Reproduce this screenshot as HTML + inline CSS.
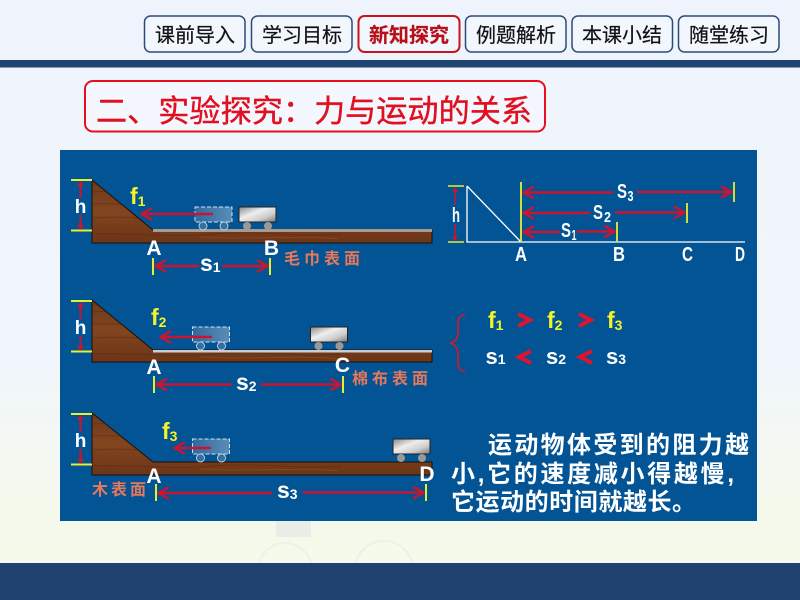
<!DOCTYPE html>
<html><head><meta charset="utf-8"><style>
html,body{margin:0;padding:0;background:#fff}
svg{display:block}
text{font-family:"Liberation Sans","Noto Sans CJK SC",sans-serif}
.n{font-size:20px;fill:#111;text-anchor:middle;stroke:#111;stroke-width:.2px}
.w{fill:#fff;font-weight:bold}
.y{fill:#f4f42a;font-weight:bold}
.c{fill:#e8785a;font-size:16px;font-weight:bold;letter-spacing:4px}
.b{fill:#fff;font-size:24px;font-weight:bold;letter-spacing:1px}
.l{stroke:#cc1430;stroke-width:2.400;fill:none}
</style></head><body>
<svg width="800" height="600" viewBox="0 0 800 600" xmlns="http://www.w3.org/2000/svg">
<defs>
<linearGradient id="bg" x1="0" y1="0" x2="0" y2="1"><stop offset="0" stop-color="#eff4fc"/><stop offset=".6" stop-color="#f1f6fc"/><stop offset=".85" stop-color="#f5f9ec"/><stop offset="1" stop-color="#f5fae8"/></linearGradient>
<linearGradient id="wood" x1="0" y1="0" x2="0" y2="1"><stop offset="0" stop-color="#6f3a1b"/><stop offset=".5" stop-color="#82451f"/><stop offset="1" stop-color="#6b3517"/></linearGradient>
<linearGradient id="cart" x1="0" y1="0" x2="1" y2="1"><stop offset="0" stop-color="#888"/><stop offset=".4" stop-color="#eee"/><stop offset=".7" stop-color="#ccc"/><stop offset="1" stop-color="#777"/></linearGradient>
<linearGradient id="ghost" x1="0" y1="0" x2="1" y2="0"><stop offset="0" stop-color="#2f6a9f"/><stop offset="1" stop-color="#5a8cb8"/></linearGradient>
<clipPath id="rampclip"><path d="M92 0L153 50H432V63H92Z"/></clipPath>
<marker id="al" markerUnits="userSpaceOnUse" markerWidth="15" markerHeight="15" refX="1" refY="7.500" orient="auto"><path d="M12 1.500 L1.500 7.500 L12 13.500" fill="none" stroke="#cc1430" stroke-width="2.400"/></marker>
<marker id="ar" markerUnits="userSpaceOnUse" markerWidth="15" markerHeight="15" refX="14" refY="7.500" orient="auto"><path d="M3 1.500 L13.500 7.500 L3 13.500" fill="none" stroke="#cc1430" stroke-width="2.400"/></marker>
<g id="hbar"><path d="M71 0H92M71 50.500H92" stroke="#e8ee30" stroke-width="2"/><path d="M80.500 2V18M80.500 35V48" stroke="#cc1430" stroke-width="2" fill="none"/><path d="M77 6L80.500 1L84 6ZM77 45L80.500 50L84 45Z" fill="#cc1430"/><text x="80.500" y="33" class="w" font-size="19" text-anchor="middle">h</text></g>
<g id="ghostcart"><rect x="0" y="0" width="37" height="15" fill="url(#ghost)" stroke="#cfe0f0" stroke-width="1" stroke-dasharray="4 2"/><circle cx="8" cy="19" r="4" fill="#35709f" stroke="#cfe0f0" stroke-width=".8"/><circle cx="29" cy="19" r="4" fill="#35709f" stroke="#cfe0f0" stroke-width=".8"/></g>
<g id="cartg"><rect x="0" y="0" width="37" height="15" fill="url(#cart)" stroke="#222" stroke-width="1"/><circle cx="8" cy="19" r="4" fill="#999"/><circle cx="29" cy="19" r="4" fill="#999"/></g>
<g id="grain" clip-path="url(#rampclip)" fill="none" stroke="#4f2610" stroke-width="1" opacity=".4"><path d="M92 12C110 10 120 14 130 13M92 24C120 22 130 27 145 25M92 38C130 35 170 42 200 38M92 54C130 52 170 58 215 54C260 50 300 58 340 54"/><path d="M200 57C250 60 300 55 338 59" stroke="#a0602c"/></g>
</defs>
<rect width="800" height="600" fill="url(#bg)"/>
<g fill="none" stroke="#eef0ea" stroke-width="2"><circle cx="285" cy="570" r="27"/><circle cx="384" cy="570" r="29"/></g>
<rect x="276" y="521" width="35" height="16" fill="#ebede8"/>
<rect y="60" width="800" height="7.500" fill="#1f4572"/>
<rect y="563" width="800" height="37" fill="#1f4270"/>

<g fill="#f2f6fd" stroke="#2a4d78" stroke-width="1.500">
<rect x="144.500" y="16" width="100.500" height="36" rx="6"/><rect x="251.500" y="16" width="100.500" height="36" rx="6"/>
<rect x="465.500" y="16" width="100.500" height="36" rx="6"/><rect x="572" y="16" width="100.500" height="36" rx="6"/><rect x="678.500" y="16" width="100.500" height="36" rx="6"/>
<rect x="358.500" y="16" width="101" height="36" rx="6" stroke="#c8141e" stroke-width="2"/>
</g>
<text class="n" x="195" y="42">课前导入</text><text class="n" x="302" y="42">学习目标</text>
<text class="n" x="409" y="42" style="fill:#b8101a;stroke:#b8101a;font-weight:bold">新知探究</text>
<text class="n" x="516" y="42">例题解析</text><text class="n" x="622" y="42">本课小结</text><text class="n" x="729" y="42">随堂练习</text>

<rect x="85" y="81" width="460" height="50.500" rx="8" fill="#f4f7fd" stroke="#e5101c" stroke-width="2"/>
<text x="96" y="122" font-size="31" fill="#e01020" stroke="#e01020" stroke-width=".4" textLength="436" lengthAdjust="spacingAndGlyphs">二、实验探究：力与运动的关系</text>

<rect x="60" y="150" width="697" height="371" fill="#035495"/>

<!-- diagram 1 -->
<path d="M92 180L153 230H432V243H92Z" fill="url(#wood)" stroke="#1a1008" stroke-width="1"/>
<use href="#grain" y="180"/>
<rect x="153" y="229" width="279" height="3" fill="#a89a92"/>
<use href="#hbar" y="180"/>
<text x="130" y="204" class="y" font-size="23">f<tspan font-size="14" dy="2">1</tspan></text>
<use href="#ghostcart" x="195" y="207"/>
<use href="#cartg" x="239" y="207"/>
<path d="M141 214H213" class="l" marker-start="url(#al)"/>
<text x="154" y="255" class="w" font-size="21" text-anchor="middle">A</text>
<text x="271.500" y="255" class="w" font-size="21" text-anchor="middle">B</text>
<path d="M153 258V275M270 258V275" stroke="#e8ee30" stroke-width="2"/>
<path d="M155 266H199" class="l" marker-start="url(#al)"/>
<path d="M222 266H268" class="l" marker-end="url(#ar)"/>
<text x="200" y="271" class="w" font-size="23">s<tspan font-size="14" dy="1">1</tspan></text>
<text x="284" y="264" class="c">毛巾表面</text>

<!-- diagram 2 -->
<path d="M92 300L153 350H432V362H92Z" fill="url(#wood)" stroke="#1a1008" stroke-width="1"/>
<use href="#grain" y="300"/>
<rect x="153" y="350" width="279" height="2.500" fill="#c8ced4"/>
<use href="#hbar" y="301"/>
<text x="151" y="325" class="y" font-size="23">f<tspan font-size="14" dy="2">2</tspan></text>
<use href="#ghostcart" x="192.500" y="327"/>
<use href="#cartg" x="310.500" y="327"/>
<path d="M160 337H212" class="l" marker-start="url(#al)"/>
<text x="154" y="374" class="w" font-size="21" text-anchor="middle">A</text>
<text x="342.500" y="372" class="w" font-size="21" text-anchor="middle">C</text>
<path d="M154 376V393M343 376V393" stroke="#e8ee30" stroke-width="2"/>
<path d="M156 384.500H232" class="l" marker-start="url(#al)"/>
<path d="M261 384.500H341" class="l" marker-end="url(#ar)"/>
<text x="236" y="390" class="w" font-size="23">s<tspan font-size="14" dy="1">2</tspan></text>
<text x="352" y="384" class="c">棉布表面</text>

<!-- diagram 3 -->
<path d="M92 413L153 462H432V475H92Z" fill="url(#wood)" stroke="#1a1008" stroke-width="1"/>
<use href="#grain" y="412"/>
<use href="#hbar" y="414"/>
<text x="162" y="439" class="y" font-size="23">f<tspan font-size="14" dy="2">3</tspan></text>
<use href="#ghostcart" x="192.500" y="439"/>
<use href="#cartg" x="393" y="439"/>
<path d="M174 448H211" class="l" marker-start="url(#al)"/>
<text x="154" y="483" class="w" font-size="21" text-anchor="middle">A</text>
<text x="427" y="481" class="w" font-size="21" text-anchor="middle">D</text>
<path d="M156 484V501M426 484V501" stroke="#e8ee30" stroke-width="2"/>
<path d="M158 493H272" class="l" marker-start="url(#al)"/>
<path d="M303 492.500H424" class="l" marker-end="url(#ar)"/>
<text x="277" y="498" class="w" font-size="23">s<tspan font-size="14" dy="1">3</tspan></text>
<text x="92" y="495" class="c" style="letter-spacing:3px">木表面</text>

<!-- right schematic -->
<path d="M467 186V242H745M467 186L521 242" stroke="#fff" stroke-width="1.300" fill="none"/>
<path d="M448 186H464M448 242H464" stroke="#e8ee30" stroke-width="1.500"/>
<path d="M455 188V205M455 224V240" stroke="#cc1430" stroke-width="1.500" fill="none"/>
<path d="M452 192L455 187L458 192ZM452 236L455 241L458 236Z" fill="#cc1430"/>
<text x="452" y="222" class="w" font-size="20" textLength="8" lengthAdjust="spacingAndGlyphs">h</text>
<path d="M521 182V242M617 222V242M687 203V223M734 182V202" stroke="#e8ee30" stroke-width="1.800"/>
<path d="M523 192.500H613" class="l" marker-start="url(#al)"/>
<path d="M637 192H732" class="l" marker-end="url(#ar)"/>
<path d="M523 213H590" class="l" marker-start="url(#al)"/>
<path d="M615 212.500H685" class="l" marker-end="url(#ar)"/>
<path d="M523 232H560" class="l" marker-start="url(#al)"/>
<path d="M577 231.500H615" class="l" marker-end="url(#ar)"/>
<g class="w" font-size="20">
<text x="617" y="198" textLength="10" lengthAdjust="spacingAndGlyphs">S</text><text x="627.500" y="201" font-size="15" textLength="6" lengthAdjust="spacingAndGlyphs">3</text>
<text x="593" y="219" textLength="10" lengthAdjust="spacingAndGlyphs">S</text><text x="604" y="222" font-size="15" textLength="7" lengthAdjust="spacingAndGlyphs">2</text>
<text x="561" y="237" textLength="10" lengthAdjust="spacingAndGlyphs">S</text><text x="571.500" y="240" font-size="15" textLength="5" lengthAdjust="spacingAndGlyphs">1</text>
</g>
<g class="w" font-size="20">
<text x="515" y="261" textLength="12" lengthAdjust="spacingAndGlyphs">A</text><text x="613" y="261" textLength="12" lengthAdjust="spacingAndGlyphs">B</text><text x="682" y="261" textLength="11" lengthAdjust="spacingAndGlyphs">C</text><text x="735" y="261" textLength="10" lengthAdjust="spacingAndGlyphs">D</text>
</g>

<!-- relation -->
<path d="M465 315C457 315 458 322 458 331C458 338 456 341 451 343C456 345 458 349 458 356C458 365 457 371 465 371" stroke="#c0202c" stroke-width="1.800" fill="none"/>
<g class="y" font-size="23">
<text x="488" y="328">f<tspan font-size="14" dy="2">1</tspan></text>
<text x="547" y="328">f<tspan font-size="14" dy="2">2</tspan></text>
<text x="607" y="328">f<tspan font-size="14" dy="2">3</tspan></text>
</g>
<g class="w" font-size="22">
<text x="485.500" y="364">s<tspan font-size="14" dy="0">1</tspan></text>
<text x="546" y="364">s<tspan font-size="14" dy="0">2</tspan></text>
<text x="606" y="364">s<tspan font-size="14" dy="0">3</tspan></text>
</g>
<g fill="none" stroke="#e0142c" stroke-width="4">
<path d="M518 314L530 320L518 326M579 314L591 320L579 326"/>
<path d="M531 351L519 357L531 363M592 351L580 357L592 363"/>
</g>

<text x="488" y="453" class="b" textLength="262" lengthAdjust="spacing">运动物体受到的阻力越</text>
<text x="451" y="482" class="b" textLength="284" lengthAdjust="spacing">小,它的速度减小得越慢,</text>
<text x="451" y="510" class="b" textLength="246" lengthAdjust="spacing">它运动的时间就越长。</text>
</svg>
</body></html>
